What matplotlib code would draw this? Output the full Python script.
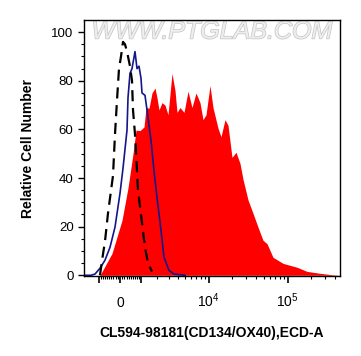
import numpy as np
import matplotlib
matplotlib.use("Agg")
import matplotlib.pyplot as plt
from matplotlib import patheffects

plt.rcParams["font.family"] = ["Liberation Sans", "DejaVu Sans"]
plt.rcParams["mathtext.fontset"] = "custom"
plt.rcParams["mathtext.rm"] = "Liberation Sans"
plt.rcParams["mathtext.it"] = "Liberation Sans:italic"

# histogram data, x in display channels (0-256), y in % of max
red_ch = [16, 28, 38, 44, 49, 52, 56, 60, 62, 65, 68, 71, 73, 75, 78, 81, 84, 88,
          91, 93, 96, 100, 104, 108, 112, 116, 119, 122, 126, 129, 134, 137, 141,
          144, 148, 152, 156, 159, 164, 169, 174, 179, 183, 189, 199, 206, 213,
          223, 236, 249, 256]
red_y = [0, 9, 22.6, 36, 50, 59.7, 59.5, 61, 69, 68.7, 75, 77, 73, 68, 71, 70, 66,
         83, 76, 67, 69, 67, 75.7, 69, 75, 71, 64, 66, 78, 69, 60.5, 57, 64, 61.7,
         48.5, 50.6, 46, 39.5, 31, 25.5, 19.8, 14.4, 13, 7.4, 4.9, 4.1, 3.3, 1.6,
         0.8, 0.2, 0]

blue_ch = [0, 7, 11, 16, 21, 26, 31, 36, 39, 43, 44, 46, 48, 51, 53, 55, 57, 58,
           61, 63, 67, 70, 73, 77, 80, 85, 90, 101]
blue_y = [0, 0, 0.5, 2.9, 6.2, 11.5, 19.8, 33.7, 44, 59.7, 73, 83, 85, 92, 85, 86,
          81, 75, 74, 68, 55.5, 43, 32, 18.5, 7.4, 2, 0.5, 0]

black_ch = [16, 18, 21, 24, 29, 31, 33, 35, 37, 39, 41, 43, 46, 48, 49, 51, 53,
            54, 58, 61, 64, 68]
black_y = [0, 6, 14, 25.5, 41, 58, 72, 85, 90, 96, 95, 92, 86, 80, 68, 58, 43, 35,
           21.6, 11.5, 5, 1.5]

major_vals = [-1000, 0, 1000, 1e4, 1e5]
major_labels = ["", "0", "", "$10^4$", "$10^5$"]
minor_vals = ([-k * 100 for k in range(1, 10)] + [k * 100 for k in range(1, 10)]
              + [k * 1000 for k in range(2, 10)] + [k * 1e4 for k in range(2, 10)]
              + [k * 1e5 for k in range(2, 5)])


def to_ch(v):
    # logicle-like display transform (asinh)
    return 36 + 34.4 * np.arcsinh(np.asarray(v, dtype=float) / 1534)


fig = plt.figure(figsize=(3.61, 3.56), dpi=100)
ax = fig.add_axes([84 / 361, 1 - 276 / 356, 256 / 361, 256 / 356])

ax.fill_between(red_ch, red_y, 0, color="#ff0000", linewidth=0)
ax.plot(blue_ch, blue_y, color="#15158c", lw=1.2)
ax.plot(black_ch, black_y, color="black", lw=1.6, linestyle=(0, (5, 3)))

ax.set_xlim(0, 256)
ax.set_ylim(-0.3, 105)

ax.set_xticks(to_ch(major_vals))
ax.set_xticklabels(major_labels, fontsize=10)
ax.set_xticks(to_ch(minor_vals), minor=True)
for lab in ax.get_xticklabels():
    lab.set_va("baseline")
ax.tick_params(axis="x", which="major", length=5, width=1.2, pad=17)
ax.tick_params(axis="x", which="minor", length=2.5, width=0.8)

ax.set_yticks([0, 20, 40, 60, 80, 100])
ax.set_yticks(np.arange(0, 105, 5), minor=True)
ax.tick_params(axis="y", which="major", length=4.5, width=1, pad=3, labelsize=9.5)
ax.tick_params(axis="y", which="minor", length=2.5, width=0.8)

for sp in ax.spines.values():
    sp.set_linewidth(1)

ax.set_xlabel("CL594-98181(CD134/OX40),ECD-A", fontsize=10, fontweight="bold",
              labelpad=12)
ax.set_ylabel("Relative Cell Number", fontsize=10, fontweight="bold", labelpad=12)

ax.text(0.5, 0.955, "WWW.PTGLAB.COM", transform=ax.transAxes, ha="center",
        va="center", fontsize=18, fontstyle="italic", color="#eeeeee",
        path_effects=[patheffects.withStroke(linewidth=1, foreground="#c4c4c4")],
        zorder=0)

fig.savefig("out.png", dpi=100)
